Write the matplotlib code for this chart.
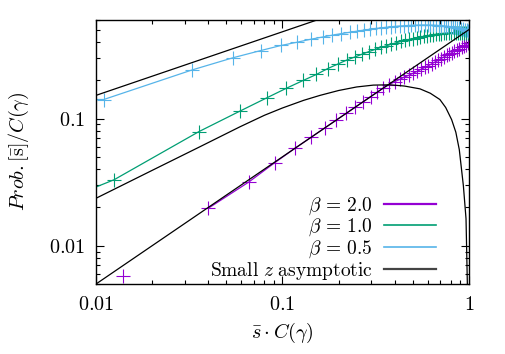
import matplotlib
matplotlib.use("Agg")
import matplotlib.pyplot as plt
from matplotlib.lines import Line2D
from matplotlib.ticker import FixedLocator, FixedFormatter, LogLocator, NullFormatter

plt.rcParams['mathtext.fontset'] = 'cm'
plt.rcParams['font.family'] = ['DejaVu Serif']

# beta = 2.0
x_b20 = [0.014, 0.040, 0.066, 0.091, 0.117, 0.143, 0.168, 0.194, 0.220, 0.245,
         0.271, 0.297, 0.322, 0.348, 0.374, 0.400, 0.425, 0.451, 0.477, 0.502,
         0.528, 0.554, 0.580, 0.605, 0.631, 0.657, 0.682, 0.708, 0.734, 0.759,
         0.785, 0.811, 0.836, 0.862, 0.888, 0.913, 0.939, 0.965, 0.990]
y_b20 = [0.0058, 0.0197, 0.0317, 0.045, 0.0585, 0.0715, 0.084, 0.097, 0.110, 0.1225,
         0.1355, 0.1485, 0.161, 0.174, 0.185, 0.195, 0.203, 0.212, 0.219, 0.227,
         0.235, 0.244, 0.252, 0.260, 0.269, 0.278, 0.286, 0.296, 0.305, 0.313,
         0.322, 0.330, 0.339, 0.347, 0.355, 0.364, 0.372, 0.381, 0.390]

# beta = 1.0 (first point lies just left of the axis)
x_b10 = [0.009, 0.0125, 0.0357, 0.0589, 0.0821, 0.105, 0.129, 0.152, 0.175, 0.198, 0.221,
         0.245, 0.268, 0.291, 0.315, 0.338, 0.361, 0.384, 0.408, 0.431, 0.454,
         0.478, 0.501, 0.524, 0.547, 0.571, 0.594, 0.617, 0.640, 0.664, 0.687,
         0.710, 0.734, 0.757, 0.780, 0.803, 0.827, 0.850, 0.873, 0.897, 0.920,
         0.943, 0.966, 0.990]
y_b10 = [0.0272, 0.033, 0.079, 0.114, 0.145, 0.173, 0.199, 0.222, 0.247, 0.268, 0.288,
         0.305, 0.321, 0.336, 0.350, 0.362, 0.373, 0.384, 0.394, 0.403, 0.411,
         0.418, 0.425, 0.431, 0.437, 0.442, 0.447, 0.451, 0.455, 0.459, 0.462,
         0.465, 0.467, 0.469, 0.471, 0.472, 0.473, 0.474, 0.474, 0.474, 0.473,
         0.472, 0.470, 0.467]

# beta = 0.5 (first point lies just left of the axis)
x_b05 = [0.009, 0.011, 0.0328, 0.0546, 0.0764, 0.0982, 0.120, 0.142, 0.164, 0.185, 0.207,
         0.229, 0.251, 0.273, 0.294, 0.316, 0.338, 0.360, 0.382, 0.403, 0.425,
         0.447, 0.469, 0.491, 0.512, 0.534, 0.556, 0.578, 0.600, 0.621, 0.643,
         0.665, 0.687, 0.709, 0.730, 0.752, 0.774, 0.796, 0.818, 0.839, 0.861,
         0.883, 0.905, 0.927, 0.948, 0.970, 0.992]
y_b05 = [0.141, 0.141, 0.241, 0.301, 0.342, 0.375, 0.398, 0.420, 0.437, 0.452, 0.465,
         0.476, 0.486, 0.495, 0.503, 0.510, 0.516, 0.521, 0.526, 0.530, 0.533,
         0.536, 0.538, 0.540, 0.541, 0.542, 0.543, 0.543, 0.543, 0.542, 0.541,
         0.540, 0.538, 0.536, 0.534, 0.532, 0.529, 0.526, 0.523, 0.520, 0.516,
         0.512, 0.508, 0.504, 0.500, 0.495, 0.490]

# small z asymptotic curves
x_asym_a = [0.01, 1.0]
y_asym_a = [0.152, 1.52]
x_asym_b = [0.01, 1.0]
y_asym_b = [0.005, 0.5]
x_asym_c = [0.010, 0.020, 0.0361, 0.0591, 0.080, 0.100, 0.130, 0.159, 0.200, 0.250,
            0.307, 0.377, 0.450, 0.546, 0.620, 0.698, 0.750, 0.807, 0.850, 0.887,
            0.933, 0.964, 0.980]
y_asym_c = [0.0236, 0.0391, 0.060, 0.086, 0.106, 0.121, 0.139, 0.152, 0.166, 0.177,
            0.183, 0.184, 0.180, 0.171, 0.158, 0.141, 0.122, 0.098, 0.078, 0.057,
            0.0296, 0.0163, 0.005]

purple = '#9400D3'
green = '#009E73'
blue = '#56B4E9'
fs = 14.5

fig = plt.figure(figsize=(5.05, 3.54), dpi=100)
ax = fig.add_axes([0.1901, 0.1977, 0.7386, 0.7472])

mk = dict(marker='+', markersize=9.5, markeredgewidth=0.8, linewidth=0.9)
# purple: markers everywhere, line from the second point on
ax.plot(x_b20, y_b20, color=purple, marker='+', markersize=9.5, markeredgewidth=0.8, linestyle='none')
ax.plot(x_b20[1:], y_b20[1:], color=purple, linewidth=0.9)
ax.plot(x_b10, y_b10, color=green, **mk)
ax.plot(x_b05, y_b05, color=blue, **mk)
for xs, ys in [(x_asym_a, y_asym_a), (x_asym_b, y_asym_b), (x_asym_c, y_asym_c)]:
    ax.plot(xs, ys, color='black', linewidth=0.9)

ax.set_xscale('log'); ax.set_yscale('log')
ax.set_xlim(0.01, 1); ax.set_ylim(0.005, 0.6)

ax.xaxis.set_major_locator(FixedLocator([0.01, 0.1, 1]))
ax.xaxis.set_major_formatter(FixedFormatter([r'$0.01$', r'$0.1$', r'$1$']))
ax.yaxis.set_major_locator(FixedLocator([0.01, 0.1]))
ax.yaxis.set_major_formatter(FixedFormatter([r'$0.01$', r'$0.1$']))
for a in (ax.xaxis, ax.yaxis):
    a.set_minor_locator(LogLocator(subs=range(2, 10)))
    a.set_minor_formatter(NullFormatter())
ax.tick_params(which='both', direction='in', top=True, right=True, labelsize=fs, width=0.8)
ax.tick_params(which='major', length=6, pad=8)
ax.tick_params(which='minor', length=3)
for s in ax.spines.values():
    s.set_linewidth(1.0)

ax.set_xlabel(r'$\bar{s}\cdot C(\gamma)$', fontsize=fs, labelpad=5)
ax.set_ylabel(r'$Prob.[\bar{\mathrm{s}}]/C(\gamma)$', fontsize=fs, labelpad=13)

handles = [Line2D([], [], color=purple, linewidth=1.6),
           Line2D([], [], color=green, linewidth=1.2),
           Line2D([], [], color=blue, linewidth=1.2),
           Line2D([], [], color='#444444', linewidth=1.6)]
labels = [r'$\beta \,=\, 2.0$', r'$\beta \,=\, 1.0$', r'$\beta \,=\, 0.5$',
          r'$\mathrm{Small}\ z\ \mathrm{asymptotic}$']
ax.legend(handles, labels, loc='lower right', bbox_to_anchor=(0.949, -0.043),
          frameon=False, markerfirst=False, fontsize=14, handlelength=2.7,
          handletextpad=0.58, labelspacing=0.0, borderpad=0.2)

fig.savefig('out.png', dpi=100)
